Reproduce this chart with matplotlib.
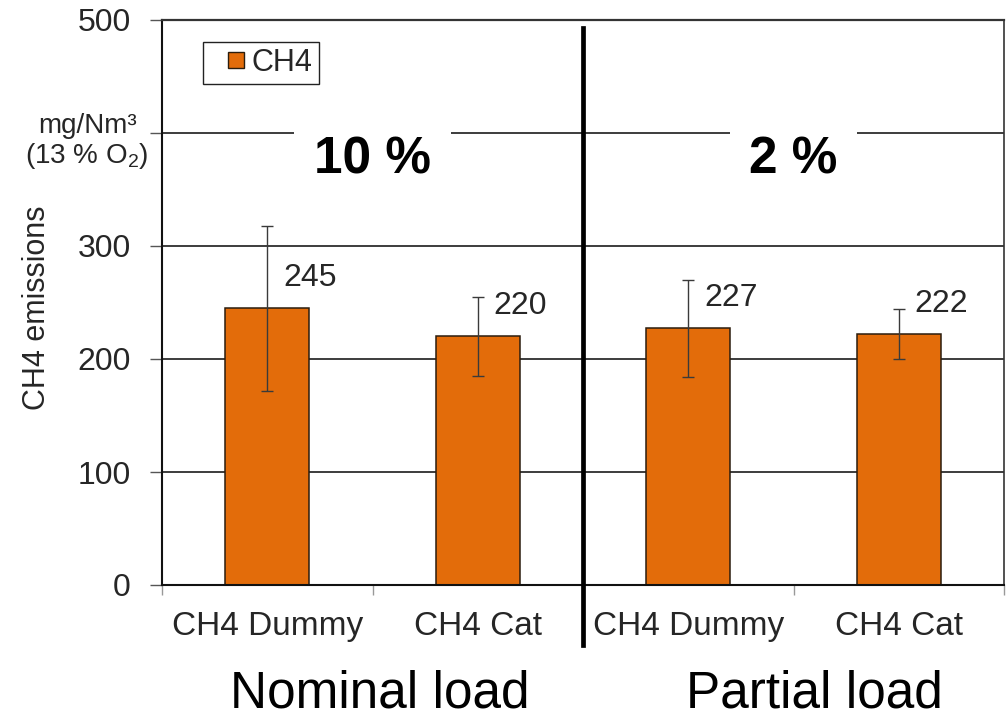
import matplotlib
matplotlib.use("Agg")
import matplotlib.pyplot as plt
from matplotlib.lines import Line2D
from matplotlib.transforms import blended_transform_factory

plt.rcParams['font.family'] = ['Liberation Sans', 'DejaVu Sans']
plt.rcParams['mathtext.fontset'] = 'custom'
plt.rcParams['mathtext.rm'] = 'Liberation Sans'
plt.rcParams['mathtext.it'] = 'Liberation Sans:italic'

# Data
categories = ["CH4 Dummy", "CH4 Cat", "CH4 Dummy", "CH4 Cat"]
ch4_values = [245, 220, 227, 222]
ch4_errors = [73, 35, 43, 22]
oxygen_labels = ["10 %", "2 %"]
load_labels = ["Nominal load", "Partial load"]
y_ticks = [0, 100, 200, 300, 400, 500]
y_tick_labels = ["0", "100", "200", "300", "", "500"]

bar_color = "#E36C0A"
edge_color = "#2b1d0e"
text_color = "#262626"

fig = plt.figure(figsize=(10.06, 7.2), dpi=100)
ax = fig.add_axes([162 / 1006, 1 - 585 / 720, 842 / 1006, 565 / 720])

x = [i + 0.5 for i in range(len(categories))]
ax.bar(x, ch4_values, width=0.4, color=bar_color, edgecolor=edge_color,
       linewidth=1.1, zorder=2)
ax.errorbar(x, ch4_values, yerr=ch4_errors, fmt="none", ecolor="#3a3a3a",
            elinewidth=1.0, capsize=4, capthick=1.0, zorder=3)

# Value labels beside the error bars
for xi, v in zip(x, ch4_values):
    ax.text(xi + 0.075, v + 27, f"{v}", ha="left", va="center",
            fontsize=23, color=text_color, zorder=4)

ax.set_xlim(0, 4)
ax.set_ylim(0, 500)

# Y axis
ax.set_yticks(y_ticks)
ax.set_yticklabels(y_tick_labels)
ax.tick_params(axis="y", direction="out", length=8.5, width=1.0,
               color="#555555", pad=14, labelsize=23, labelcolor=text_color)
ax.yaxis.grid(True, color="#3c3c3c", linewidth=1.4)
ax.set_axisbelow(True)

# X axis: category labels centred, tick marks on the boundaries
ax.set_xticks(x)
ax.set_xticklabels(categories)
ax.set_xticks([0, 1, 2, 3, 4], minor=True)
ax.tick_params(axis="x", which="major", length=0, pad=19, labelsize=24,
               labelcolor=text_color)
ax.tick_params(axis="x", which="minor", direction="out", length=7.5,
               width=1.0, color="#999999")

for side in ["left", "bottom"]:
    ax.spines[side].set_linewidth(1.5)
    ax.spines[side].set_color("#111111")
ax.spines["top"].set_linewidth(1.6)
ax.spines["top"].set_color("#333333")
ax.spines["right"].set_linewidth(1.2)
ax.spines["right"].set_color("#333333")

# Y axis label and unit
ax.set_ylabel("CH4 emissions", fontsize=22, color=text_color)
ax.yaxis.set_label_coords(-0.131, 0.49)
unit_trans = blended_transform_factory(ax.transAxes, ax.transData)
ax.text(-0.089, 406, "mg/Nm³", transform=unit_trans,
        ha="center", va="center", fontsize=20, color=text_color, clip_on=False)
ax.text(-0.089, 380, "(13 % O$_2$)", transform=unit_trans,
        ha="center", va="center", fontsize=20, color=text_color, clip_on=False)

# Divider between the two load cases
ax.axvline(2, ymin=-0.106, ymax=0.986, color="black", linewidth=3.4,
           clip_on=False, zorder=5)

# Oxygen level headings
for xi, lab in zip([1, 3], oxygen_labels):
    ax.text(xi, 376, lab, ha="center", va="center", fontsize=37,
            fontweight="bold", color="black", zorder=4,
            bbox=dict(facecolor="white", edgecolor="none", pad=14))

# Load case captions below the axis
trans = blended_transform_factory(ax.transData, fig.transFigure)
for xi, lab in zip([1.036, 3.10], load_labels):
    ax.text(xi, 12 / 720, lab, transform=trans, ha="center", va="baseline",
            fontsize=37, color="black", clip_on=False)

# Legend
handle = Line2D([], [], marker="s", markersize=11.5, markerfacecolor=bar_color,
                markeredgecolor=edge_color, markeredgewidth=1.0, linestyle="none")
leg = ax.legend([handle], ["CH4"], loc="upper left",
                bbox_to_anchor=(41 / 842, 1 - 22 / 565), borderaxespad=0,
                fontsize=22, borderpad=0.2, handlelength=1.76,
                handletextpad=-0.37, fancybox=False, framealpha=1,
                edgecolor="#222222")
leg.get_frame().set_linewidth(1.0)
for t in leg.get_texts():
    t.set_color(text_color)

fig.savefig("out.png", dpi=100)
